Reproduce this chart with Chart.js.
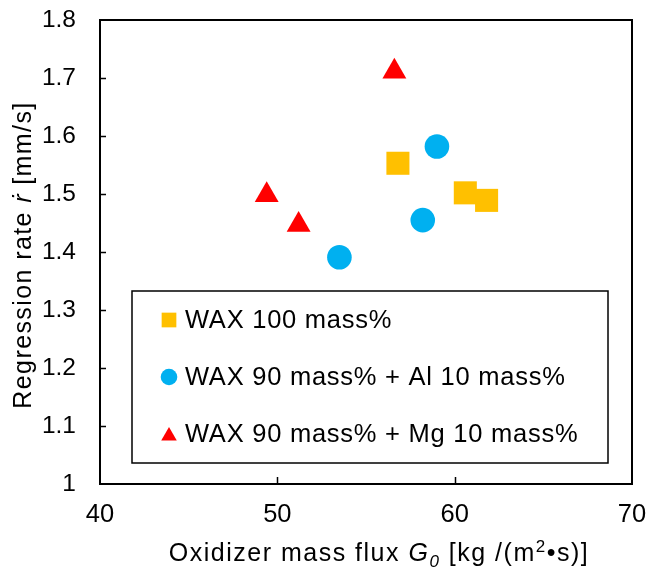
<!DOCTYPE html>
<html>
<head>
<meta charset="utf-8">
<script src="https://cdn.jsdelivr.net/npm/chart.js@4.4.1/dist/chart.umd.min.js"></script>
<style>
  html, body { margin: 0; padding: 0; background: #fff; }
  #wrap { width: 649px; height: 570px; }
</style>
</head>
<body>
<div id="wrap"><canvas id="myChart" width="649" height="570"></canvas></div>
<script>
const FONT = "'Liberation Sans', Arial, 'DejaVu Sans', sans-serif";

// x = oxidizer mass flux G0 [kg/(m2 s)], y = regression rate [mm/s]
const waxX = [56.8, 60.6, 61.8];
const waxY = [1.553, 1.502, 1.489];
const alX = [59.0, 58.2, 53.5];
const alY = [1.582, 1.455, 1.391];
const mgX = [56.6, 49.4, 51.2];
const mgY = [1.711, 1.498, 1.447];

const seriesLabels = [
  'WAX 100 mass%',
  'WAX 90 mass% + Al 10 mass%',
  'WAX 90 mass% + Mg 10 mass%',
];
const xTicks = [40, 50, 60, 70];
const yTicks = [1, 1.1, 1.2, 1.3, 1.4, 1.5, 1.6, 1.7, 1.8];

const toPoints = (xs, ys) => xs.map((x, i) => ({ x: x, y: ys[i] }));

const styles = [
  { color: '#FFC000', pointStyle: 'rect', radius: 16.3, legendRadius: 10.4 },
  { color: '#00B0F0', pointStyle: 'circle', radius: 12.3, legendRadius: 8.3 },
  { color: '#FF0000', pointStyle: 'triangle', radius: 13.8, legendRadius: 9 },
];

// frame, inward tick marks, axis titles and the boxed legend
const decorPlugin = {
  id: 'decor',
  afterDraw(chart) {
    const ctx = chart.ctx;
    const a = chart.chartArea;
    const xs = chart.scales.x;
    const ys = chart.scales.y;
    ctx.save();
    ctx.strokeStyle = '#000';
    ctx.lineWidth = 2;
    ctx.strokeRect(a.left, a.top, a.right - a.left, a.bottom - a.top);
    ctx.lineWidth = 1.5;
    ctx.beginPath();
    yTicks.slice(1, -1).forEach((v) => {
      const py = Math.round(ys.getPixelForValue(v)) + 0.5;
      ctx.moveTo(a.left, py);
      ctx.lineTo(a.left + 6, py);
    });
    xTicks.slice(1, -1).forEach((v) => {
      const px = Math.round(xs.getPixelForValue(v)) + 0.5;
      ctx.moveTo(px, a.bottom);
      ctx.lineTo(px, a.bottom - 7);
    });
    ctx.stroke();

    // x title
    ctx.fillStyle = '#000';
    ctx.textBaseline = 'alphabetic';
    ctx.textAlign = 'left';
    const f = (style, size) => `${style} ${size}px ${FONT}`;
    ctx.letterSpacing = '1.5px';
    const xParts = [
      { t: 'Oxidizer mass flux ', font: f('', 25), dy: 0 },
      { t: 'G', font: f('italic', 25), dy: 0 },
      { t: '0', font: f('italic', 17), dy: 6 },
      { t: ' [kg /(m', font: f('', 25), dy: 0 },
      { t: '2', font: f('', 17), dy: -9 },
      { t: '•s)]', font: f('', 25), dy: 0 },
    ];
    let total = 0;
    xParts.forEach((p) => { ctx.font = p.font; total += ctx.measureText(p.t).width; });
    let cx = 379 - total / 2;
    const baseY = 561;
    xParts.forEach((p) => {
      ctx.font = p.font;
      ctx.fillText(p.t, cx, baseY + p.dy);
      cx += ctx.measureText(p.t).width;
    });

    // y title (rotated)
    ctx.letterSpacing = '1.4px';
    const yParts = [
      { t: 'Regression rate ', font: f('', 25) },
      { t: 'ṙ', font: f('italic', 25) },
      { t: ' [mm/s]', font: f('', 25) },
    ];
    total = 0;
    yParts.forEach((p) => { ctx.font = p.font; total += ctx.measureText(p.t).width; });
    ctx.save();
    ctx.translate(31, 255);
    ctx.rotate(-Math.PI / 2);
    let cy = -total / 2;
    yParts.forEach((p) => {
      ctx.font = p.font;
      ctx.fillText(p.t, cy, 0);
      cy += ctx.measureText(p.t).width;
    });
    ctx.restore();

    // legend box
    const lx = a.left + 32, ly = a.top + 271;
    ctx.lineWidth = 1.5;
    ctx.strokeRect(lx, ly, 476, 172);
    ctx.letterSpacing = '0.75px';
    ctx.font = f('', 25.5);
    ctx.textBaseline = 'middle';
    seriesLabels.forEach((label, i) => {
      const rowY = ly + 29 + i * 57;
      const s = styles[i];
      ctx.fillStyle = s.color;
      Chart.helpers.drawPoint(ctx, {
        pointStyle: s.pointStyle, radius: s.legendRadius, rotation: 0, borderWidth: 0,
      }, lx + 37, rowY + (s.pointStyle === 'triangle' ? 2 : 0));
      ctx.fillStyle = '#000';
      ctx.fillText(label, lx + 53, rowY + 1);
    });
    ctx.letterSpacing = '0px';
    ctx.restore();
  },
};

const ctx = document.getElementById('myChart');
const myChart = new Chart(ctx, {
  type: 'scatter',
  data: {
    datasets: [
      { label: seriesLabels[0], data: toPoints(waxX, waxY) },
      { label: seriesLabels[1], data: toPoints(alX, alY) },
      { label: seriesLabels[2], data: toPoints(mgX, mgY) },
    ].map((ds, i) => Object.assign(ds, {
      pointStyle: styles[i].pointStyle,
      pointRadius: styles[i].radius,
      pointHoverRadius: styles[i].radius,
      backgroundColor: styles[i].color,
      borderColor: styles[i].color,
      pointBorderWidth: 0,
    })),
  },
  plugins: [decorPlugin],
  options: {
    responsive: false,
    animation: false,
    layout: { padding: { left: 0, right: 17, top: 20, bottom: 0 } },
    plugins: {
      legend: { display: false },
      tooltip: { enabled: false },
    },
    scales: {
      x: {
        type: 'linear',
        min: 40,
        max: 70,
        afterBuildTicks: (scale) => { scale.ticks = xTicks.map((v) => ({ value: v })); },
        afterFit: (scale) => {
          scale.height = 86;
          scale.paddingLeft = 0;
          scale.paddingRight = 0;
        },
        grid: { display: false, drawTicks: false },
        border: { display: false },
        ticks: { color: '#000', padding: 16, font: { family: FONT, size: 25.5 } },
      },
      y: {
        type: 'linear',
        min: 1,
        max: 1.8,
        afterBuildTicks: (scale) => { scale.ticks = yTicks.map((v) => ({ value: v })); },
        afterFit: (scale) => {
          scale.width = 100;
          scale.paddingTop = 0;
          scale.paddingBottom = 0;
        },
        grid: { display: false, drawTicks: false },
        border: { display: false },
        ticks: {
          color: '#000',
          padding: 24,
          font: { family: FONT, size: 24.5 },
          callback: (v) => String(+v.toFixed(1)),
        },
      },
    },
  },
});
</script>
</body>
</html>
